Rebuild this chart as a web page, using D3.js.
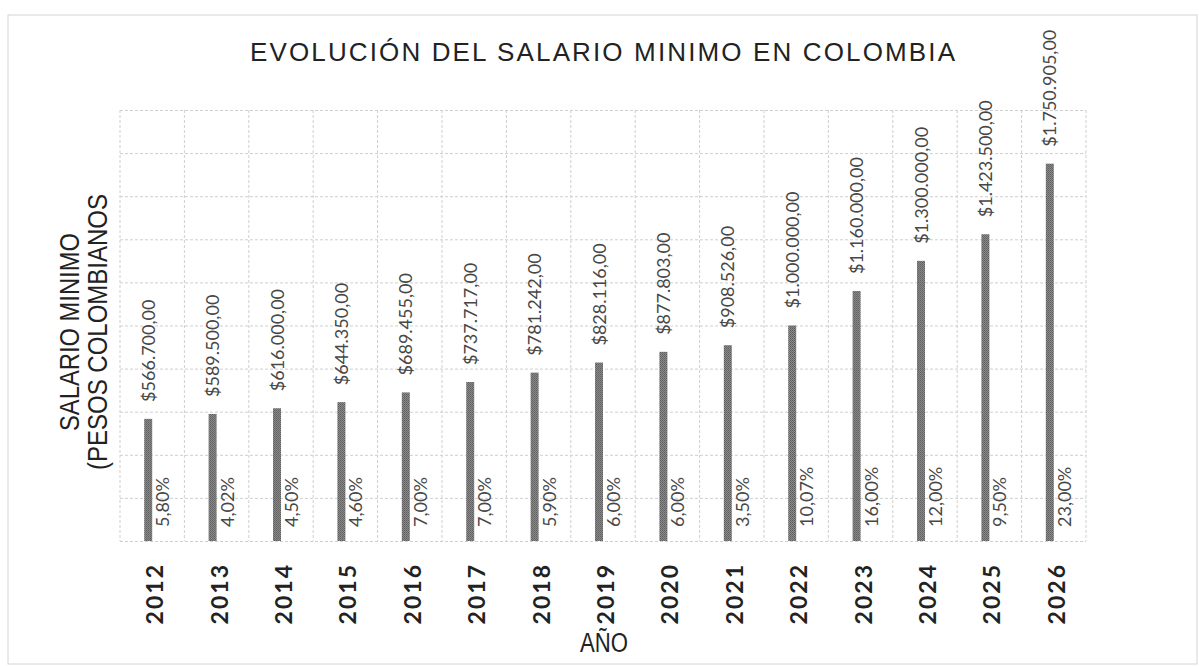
<!DOCTYPE html>
<html>
<head>
<meta charset="utf-8">
<script src="https://cdn.jsdelivr.net/npm/d3@7"></script>
<style>
  body { margin: 0; background: #fff; }
  .grid line { stroke: #cfcfcf; stroke-width: 1px; stroke-dasharray: 3,2; }
  .grid path { display: none; }
</style>
</head>
<body>
<div id="chart"></div>
<script>
// datos
const years = ["2012", "2013", "2014", "2015", "2016", "2017", "2018", "2019", "2020", "2021", "2022", "2023", "2024", "2025", "2026"];
const salarios = [566700, 589500, 616000, 644350, 689455, 737717, 781242, 828116, 877803, 908526, 1000000, 1160000, 1300000, 1423500, 1750905];
const incrementos = [5.80, 4.02, 4.50, 4.60, 7.00, 7.00, 5.90, 6.00, 6.00, 3.50, 10.07, 16.00, 12.00, 9.50, 23.00];
const yTicks = [0, 200000, 400000, 600000, 800000, 1000000, 1200000, 1400000, 1600000, 1800000, 2000000];
const series = ["salario", "incremento"];

const W = 1199, H = 666;
const margin = { top: 110, right: 113, bottom: 125, left: 120 };
const width = W - margin.left - margin.right,
  height = H - margin.top - margin.bottom;

const es = d3.formatLocale({ decimal: ",", thousands: ".", grouping: [3], currency: ["$", ""] });
const fmtMoney = es.format("$,.2f");
const fmtPct = es.format(",.2f");

const svg = d3.select("#chart").append("svg")
  .attr("width", W)
  .attr("height", H);

// textura de las barras
const pat = svg.append("defs").append("pattern")
  .attr("id", "dots")
  .attr("width", 2).attr("height", 2)
  .attr("patternUnits", "userSpaceOnUse");
pat.append("rect").attr("width", 2).attr("height", 2).attr("fill", "#8a8a8a");
pat.append("rect").attr("width", 1).attr("height", 1).attr("fill", "#5e5e5e");
pat.append("rect").attr("x", 1).attr("y", 1).attr("width", 1).attr("height", 1).attr("fill", "#6a6a6a");

// marco exterior
svg.append("rect")
  .attr("x", 8).attr("y", 15)
  .attr("width", 1189).attr("height", 649)
  .attr("fill", "none")
  .attr("stroke", "#d4d4d4");

// titulo
svg.append("text")
  .attr("x", 250).attr("y", 61)
  .attr("textLength", 705)
  .attr("lengthAdjust", "spacing")
  .style("font-family", "'Liberation Sans', Arial, sans-serif")
  .style("font-size", "26px")
  .attr("fill", "#222")
  .text("EVOLUCIÓN DEL SALARIO MINIMO EN COLOMBIA");

const g = svg.append("g").attr("transform", `translate(${margin.left},${margin.top})`);

const x = d3.scaleBand().domain(years).range([0, width]).padding(0);
const y = d3.scaleLinear().domain([0, 2000000]).range([height, 0]);
const bw = x.bandwidth() * 0.124;
const xs = d3.scaleBand().domain(series)
  .range([x.bandwidth() / 2 - bw, x.bandwidth() / 2 + bw]);

// rejilla horizontal
g.append("g").attr("class", "grid")
  .call(d3.axisLeft(y).tickValues(yTicks).tickSize(-width).tickFormat(""));

// rejilla vertical (limites de categoria)
g.append("g").attr("class", "grid")
  .selectAll("line")
  .data(years.concat(["end"]))
  .join("line")
  .attr("x1", (d, i) => i < years.length ? x(d) : width)
  .attr("x2", (d, i) => i < years.length ? x(d) : width)
  .attr("y1", 0)
  .attr("y2", height);

// barras
g.selectAll(".bar")
  .data(salarios)
  .join("rect")
  .attr("class", "bar")
  .attr("x", (d, i) => x(years[i]) + xs("salario"))
  .attr("y", d => y(d))
  .attr("width", xs.bandwidth())
  .attr("height", d => height - y(d))
  .attr("fill", "url(#dots)");

// etiquetas de valor
g.selectAll(".val")
  .data(salarios)
  .join("text")
  .attr("class", "val")
  .attr("transform", (d, i) => {
    const cx = x(years[i]) + xs("salario") + xs.bandwidth() / 2 + 6.5;
    return `translate(${cx},${y(d) - 17}) rotate(-90)`;
  })
  .style("font-family", "Lato, 'Open Sans', sans-serif")
  .style("font-size", "18px")
  .attr("fill", "#474747")
  .text(d => fmtMoney(d));

// etiquetas de porcentaje
g.selectAll(".pct")
  .data(incrementos)
  .join("text")
  .attr("class", "pct")
  .attr("transform", (d, i) => {
    const cx = x(years[i]) + xs("incremento") + xs.bandwidth() / 2 + 13;
    return `translate(${cx},${height - 14}) rotate(-90)`;
  })
  .style("font-family", "Lato, 'Open Sans', sans-serif")
  .style("font-size", "18px")
  .attr("fill", "#474747")
  .text(d => fmtPct(d) + "%");

// eje x
g.selectAll(".year")
  .data(years)
  .join("text")
  .attr("class", "year")
  .attr("transform", d => `translate(${x(d) + x.bandwidth() / 2 + 11},${height + 22}) rotate(-90)`)
  .attr("text-anchor", "end")
  .style("font-family", "Lato, 'Open Sans', sans-serif")
  .style("font-weight", "bold")
  .style("font-size", "23px")
  .style("letter-spacing", "2px")
  .attr("fill", "#222")
  .text(d => d);

svg.append("text")
  .attr("x", 580).attr("y", 652)
  .attr("textLength", 48)
  .attr("lengthAdjust", "spacingAndGlyphs")
  .style("font-family", "'Liberation Sans', sans-serif")
  .style("font-size", "27px")
  .attr("fill", "#222")
  .text("AÑO");

// titulo eje y
const yt = svg.append("text")
  .attr("transform", "translate(0,332) rotate(-90)")
  .style("font-family", "'Liberation Sans', sans-serif")
  .style("font-size", "28px")
  .attr("fill", "#222");
yt.append("tspan").attr("x", -99).attr("y", 79)
  .attr("textLength", 198).attr("lengthAdjust", "spacingAndGlyphs")
  .text("SALARIO MINIMO");
yt.append("tspan").attr("x", -138).attr("y", 107)
  .attr("textLength", 276).attr("lengthAdjust", "spacingAndGlyphs")
  .text("(PESOS COLOMBIANOS");
</script>
</body>
</html>
